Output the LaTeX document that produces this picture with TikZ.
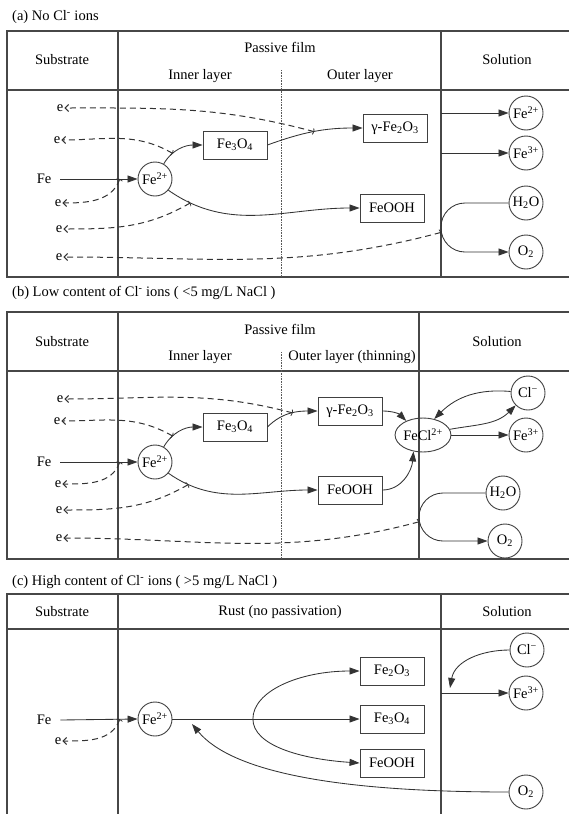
\documentclass[tikz,border=0pt]{standalone}
\usepackage{fontspec}
\setmainfont{Liberation Serif}
\usetikzlibrary{arrows.meta,shapes.geometric}
\begin{document}
\begin{tikzpicture}[x=1pt,y=1pt,font=\fontsize{14.5}{17}\selectfont,
  frame/.style={line width=1.1pt, draw=black!72},
  dotline/.style={line width=0.9pt, draw=black!65, dash pattern=on 0.8pt off 0.8pt},
  conn/.style={line width=0.85pt, draw=black!80},
  arr/.style={conn,-{Triangle[length=10pt,width=7pt]}},
  eline/.style={conn, line width=1pt, dash pattern=on 6pt off 4pt, {Parenthesis[length=2pt,width=8pt,line width=0.8pt]}-{Straight Barb[length=3.5pt,width=7pt]}},
  boxn/.style={draw=black!75, line width=0.9pt, rectangle, minimum width=64pt, minimum height=28pt, inner sep=1pt},
  ion/.style={draw=black!75, line width=0.9pt, circle, minimum size=34pt, inner sep=0pt},
  fecls/.style={draw=black!75, line width=0.9pt, ellipse, minimum width=48pt, minimum height=34pt, inner sep=0pt},
  txt/.style={inner sep=1pt}]
\useasboundingbox (0,0) rectangle (569,-814);

% ===================== (a) =====================
\node[txt,anchor=west] (tita) at (11,-17) {(a) No Cl\textsuperscript{-} ions};
\draw[frame] (569,-31) -- (7,-31) -- (7,-277) -- (569,-277);
\draw[frame] (7,-90) -- (569,-90);
\draw[frame] (118,-31) -- (118,-277);
\draw[frame] (441,-31) -- (441,-277);
\draw[dotline] (281,-70) -- (281,-277);
\node[txt] (suba) at (62,-60) {Substrate};
\node[txt] (pfa) at (280,-47) {Passive film};
\node[txt] (ila) at (200,-76) {Inner layer};
\node[txt] (ola) at (360,-76) {Outer layer};
\node[txt] (sola) at (507,-60) {Solution};

\node[txt] (fea) at (44,-179) {Fe};
\node[txt] (e1a) at (60,-108) {e};
\node[txt] (e2a) at (57,-140) {e};
\node[txt] (e3a) at (58,-203) {e};
\node[txt] (e4a) at (59,-229) {e};
\node[txt] (e5a) at (59,-257) {e};
\node[ion] (fe2a) at (155,-179) {Fe\textsuperscript{2+}};
\node[boxn] (fe3o4a) at (235,-145) {Fe\textsubscript{3}O\textsubscript{4}};
\node[boxn] (gfe2o3a) at (395,-128) {γ-Fe\textsubscript{2}O\textsubscript{3}};
\node[boxn] (feoha) at (392,-208) {FeOOH};
\node[ion] (sfe2a) at (526,-113) {Fe\textsuperscript{2+}};
\node[ion] (sfe3a) at (526,-153) {Fe\textsuperscript{3+}};
\node[ion] (h2oa) at (526,-203) {H\textsubscript{2}O};
\node[ion] (o2a) at (526,-252) {O\textsubscript{2}};

\draw[arr] ([xshift=8pt]fea.east) -- coordinate[pos=0.77] (h3a) (fe2a.west);
\draw[arr] (fe2a.60) to[out=60,in=180] coordinate[pos=0.3] (h2a) (fe3o4a.west);
\draw[arr] (fe3o4a.east) to[out=20,in=180] coordinate[pos=0.5] (h1a) (gfe2o3a.west);
\draw[arr] (fe2a.-40) to[out=-35,in=180] coordinate[pos=0.12] (h4a) (feoha.west);
\coordinate (s1a) at (441,-113);
\coordinate (s2a) at (441,-153);
\draw[arr] (s1a) -- (sfe2a.west);
\draw[arr] (s2a) -- (sfe3a.west);
\draw[arr, rounded corners=24pt] (h2oa.west) -- (441,-203) -- coordinate[pos=0.6] (bxa) (441,-252) -- (o2a.west);

\draw[eline] (h1a) to[out=165,in=0] (e1a.east);
\draw[eline] (h2a) to[out=150,in=0] (e2a.east);
\draw[eline] (h3a) to[out=-110,in=0] (e3a.east);
\draw[eline] (h4a) to[out=-150,in=0] (e4a.east);
\draw[eline] (bxa) to[out=195,in=0] (e5a.east);

% ===================== (b) =====================
\node[txt,anchor=west] (titb) at (11,-293) {(b) Low content of Cl\textsuperscript{-} ions ( <5 mg/L NaCl )};
\draw[frame] (569,-312) -- (7,-312) -- (7,-559) -- (569,-559);
\draw[frame] (7,-371) -- (569,-371);
\draw[frame] (118,-312) -- (118,-559);
\draw[frame] (419,-312) -- (419,-559);
\draw[dotline] (281,-352) -- (281,-559);
\node[txt] (subb) at (62,-342) {Substrate};
\node[txt] (pfb) at (280,-329) {Passive film};
\node[txt] (ilb) at (200,-357) {Inner layer};
\node[txt] (olb) at (352,-357) {Outer layer (thinning)};
\node[txt] (solb) at (497,-342) {Solution};

\node[txt] (feb) at (44,-462) {Fe};
\node[txt] (e1b) at (60,-399) {e};
\node[txt] (e2b) at (57,-421) {e};
\node[txt] (e3b) at (58,-484) {e};
\node[txt] (e4b) at (59,-510) {e};
\node[txt] (e5b) at (59,-538) {e};
\node[ion] (fe2b) at (155,-462) {Fe\textsuperscript{2+}};
\node[boxn] (fe3o4b) at (235,-427) {Fe\textsubscript{3}O\textsubscript{4}};
\node[boxn] (gfe2o3b) at (350,-411) {γ-Fe\textsubscript{2}O\textsubscript{3}};
\node[boxn] (feohb) at (350,-490) {FeOOH};
\node[fecls] (fecl) at (423,-435) {FeCl\textsuperscript{2+}};
\node[ion] (clb) at (528,-393) {Cl\textsuperscript{−}};
\node[ion] (sfe3b) at (526,-435) {Fe\textsuperscript{3+}};
\node[ion] (h2ob) at (503,-493) {H\textsubscript{2}O};
\node[ion] (o2b) at (505,-541) {O\textsubscript{2}};

\draw[arr] ([xshift=8pt]feb.east) -- coordinate[pos=0.77] (h3b) (fe2b.west);
\draw[arr] (fe2b.60) to[out=60,in=180] coordinate[pos=0.3] (h2b) (fe3o4b.west);
\draw[arr] (fe3o4b.east) to[out=45,in=180] coordinate[pos=0.55] (h1b) (gfe2o3b.west);
\draw[arr] (fe2b.-40) to[out=-35,in=180] coordinate[pos=0.14] (h4b) (feohb.west);
\draw[arr] (gfe2o3b.east) to[out=0,in=135] (fecl.140);
\draw[arr] (feohb.east) to[out=0,in=-95] (fecl.-120);
\draw[arr] (clb.175) to[out=175,in=45] (fecl.55);
\draw[arr] (fecl.12) to[out=10,in=225] (clb.225);
\draw[arr] (fecl.east) -- (sfe3b.west);
\draw[arr, rounded corners=24pt] (h2ob.west) -- (419,-493) -- coordinate[pos=0.6] (bxb) (419,-541) -- (o2b.west);

\draw[eline] (h1b) to[out=165,in=0] (e1b.east);
\draw[eline] (h2b) to[out=150,in=0] (e2b.east);
\draw[eline] (h3b) to[out=-110,in=0] (e3b.east);
\draw[eline] (h4b) to[out=-150,in=0] (e4b.east);
\draw[eline] (bxb) to[out=195,in=0] (e5b.east);

% ===================== (c) =====================
\node[txt,anchor=west] (titc) at (11,-582) {(c) High content of Cl\textsuperscript{-} ions ( >5 mg/L NaCl )};
\draw[frame] (569,-594) -- (7,-594) -- (7,-814);
\draw[frame] (7,-629) -- (569,-629);
\draw[frame] (118,-594) -- (118,-814);
\draw[frame] (441,-594) -- (441,-814);
\node[txt] (subc) at (62,-612) {Substrate};
\node[txt] (rustc) at (280,-612) {Rust (no passivation)};
\node[txt] (solc) at (507,-612) {Solution};

\node[txt] (fec) at (44,-720) {Fe};
\node[txt] (ec) at (58,-741) {e};
\node[ion] (fe2c) at (155,-719) {Fe\textsuperscript{2+}};
\node[boxn] (fe2o3c) at (392,-671) {Fe\textsubscript{2}O\textsubscript{3}};
\node[boxn] (fe3o4c) at (392,-719) {Fe\textsubscript{3}O\textsubscript{4}};
\node[boxn] (feohc) at (392,-763) {FeOOH};
\node[ion] (clc) at (527,-650) {Cl\textsuperscript{−}};
\node[ion] (sfe3c) at (526,-693) {Fe\textsuperscript{3+}};
\node[ion] (o2c) at (526,-792) {O\textsubscript{2}};

\draw[arr] ([xshift=8pt]fec.east) -- coordinate[pos=0.77] (h3c) (fe2c.west);
\draw[arr] (fe2c.east) -- coordinate[pos=0.43] (splitc) (fe3o4c.west);
\draw[arr] (splitc) .. controls +(0,28) and +(-60,0) .. (fe2o3c.west);
\draw[arr] (splitc) .. controls +(0,-26) and +(-60,4) .. (feohc.west);
\coordinate (tipc) at (192,-724);
\draw[arr] (o2c.west) .. controls +(-180,0) and +(38,-46) .. (tipc);
\coordinate (s1c) at (441,-693);
\coordinate (tipcl) at (450,-688);
\draw[arr] (s1c) -- (sfe3c.west);
\draw[arr] (clc.west) to[out=180,in=80] (tipcl);
\draw[eline] (h3c) to[out=-110,in=0] (ec.east);
\end{tikzpicture}
\end{document}
